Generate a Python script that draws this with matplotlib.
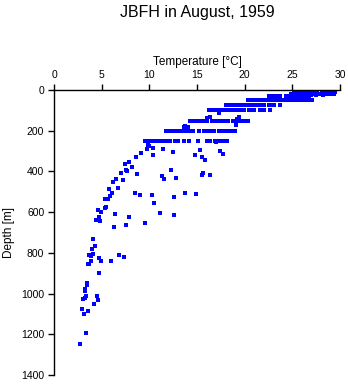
import matplotlib
matplotlib.use("Agg")
import matplotlib.pyplot as plt

plt.rcParams['font.family'] = ['Liberation Sans', 'DejaVu Sans']

# == Data ==
# Surface layers (depth in m, temperatures in degC)
t_0m = [25.3, 25.6, 26.0, 26.1, 26.2, 26.3, 26.4, 26.5, 26.6, 26.7, 26.8,
        26.9, 27.0, 27.1, 27.2, 27.4, 27.6, 28.2, 28.3, 28.4, 28.5, 28.6,
        28.7, 28.8, 28.9, 29.0, 29.2, 29.4]
t_10m = [25.2, 25.8, 26.1, 26.2, 26.3, 26.4, 26.5, 26.6, 26.7, 26.8, 26.9,
         27.0, 27.1, 27.3, 27.5, 28.1, 28.3, 28.5, 28.7, 28.9, 29.1, 29.3,
         29.5]
t_20m = [24.9, 25.4, 26.0, 26.2, 26.4, 26.6, 26.8, 27.0, 27.3, 27.6, 27.8,
         28.0, 28.4, 28.8, 29.1, 29.4]
t_25m = [25.0, 25.3, 26.0, 26.5, 27.0, 27.5, 28.2]
t_30m = [22.5, 22.7, 22.9, 23.1, 23.5, 23.7, 24.3, 24.5, 24.7, 24.9, 25.2,
         25.5, 25.9, 26.3, 26.7]
t_50m = [20.3, 20.5, 20.7, 20.9, 21.1, 21.3, 21.5, 21.7, 21.9, 22.1, 22.3,
         22.5, 22.7, 22.9, 23.1, 23.3, 23.5, 23.7, 23.9, 24.1, 24.3, 24.5,
         24.7, 24.9, 25.1, 25.3, 25.5, 25.7, 25.9, 26.1, 26.3, 26.5, 26.7,
         26.9, 27.1]
t_75m = [18.0, 18.2, 18.4, 18.6, 18.8, 19.0, 19.2, 19.4, 19.6, 19.8, 20.0,
         20.2, 20.4, 20.6, 20.8, 21.0, 21.2, 21.4, 21.6, 21.8, 22.0, 22.5,
         22.8, 23.1, 23.7]
t_100m = [16.3, 16.5, 16.7, 16.9, 17.1, 17.3, 17.5, 17.7, 17.9, 18.1, 18.3,
          18.5, 18.7, 18.9, 19.1, 19.3, 19.5, 19.7, 19.9, 20.5, 20.8, 21.0,
          21.6, 22.0, 22.7]
t_150m = [14.3, 14.5, 14.7, 14.9, 15.1, 15.3, 15.5, 15.7, 15.9, 16.1, 16.6,
          17.0, 17.4, 17.6, 17.8, 18.0, 18.3, 18.8, 19.0, 19.2, 19.4, 19.6,
          19.8, 20.0, 20.4]
t_200m = [11.7, 11.9, 12.1, 12.3, 12.5, 12.7, 12.9, 13.1, 13.3, 13.5, 13.7,
          13.9, 14.1, 14.3, 14.6, 15.2, 15.7, 16.1, 16.4, 16.8, 17.3, 17.5,
          17.7, 17.9, 18.2, 18.4, 18.7, 19.0]
t_250m = [9.5, 9.7, 9.9, 10.1, 10.3, 10.5, 10.7, 10.9, 11.1, 11.3, 11.5,
          11.7, 11.9, 12.2, 12.7, 13.0, 13.6, 14.2, 15.1, 16.0, 16.4, 16.9,
          17.1, 17.4, 17.7, 18.1]

# Scattered single readings (depth m, temperature degC)
depth_pts = [98, 114, 131, 131, 139, 143, 150, 170, 176, 180, 180, 186,
             255, 270, 274, 284, 292, 290, 306, 311, 319, 320, 328, 354,
             362, 380, 391, 398, 407, 412, 440, 435, 450, 479, 486, 505,
             522, 535, 535, 574, 580, 590, 600, 623, 639, 644,
             294, 319, 328, 343, 300, 313, 420, 437, 391, 430, 407, 417, 417,
             505, 515, 515, 526, 505, 510, 556, 606, 614, 652, 665, 673,
             609, 622,
             730, 765, 781, 809, 814, 806, 825, 838, 853, 853, 840, 840,
             810, 820, 899, 948, 956, 977, 988, 1010, 1026, 1024, 1011,
             1031, 1050, 1075, 1085, 1100, 1193, 1247]
temp_pts = [21.7, 17.3, 16.4, 19.4, 16.0, 19.2, 19.6, 19.1, 13.7, 13.6, 14.1, 14.1,
            17.0, 9.9, 9.95, 10.4, 9.75, 11.4, 12.5, 9.1, 10.4, 10.4, 8.6, 7.9,
            7.4, 8.2, 7.55, 7.7, 7.0, 8.75, 7.2, 6.5, 6.2, 6.7, 5.8, 6.1,
            5.9, 5.3, 5.65, 5.5, 5.35, 4.6, 4.9, 4.75, 4.4, 4.8,
            15.3, 14.8, 15.5, 15.8, 17.4, 17.7, 11.3, 11.5, 12.3, 12.8, 15.6, 15.5, 16.4,
            8.5, 9.0, 10.3, 12.6, 13.7, 14.9, 10.5, 11.1, 12.6, 9.5, 7.55, 6.3,
            6.4, 7.9,
            4.04, 4.29, 4.0, 3.69, 3.93, 4.1, 4.74, 3.83, 3.58, 3.64, 4.96, 6.0,
            6.78, 7.3, 4.74, 3.48, 3.45, 3.27, 3.27, 3.34, 3.06, 3.27, 4.53,
            4.64, 4.22, 2.95, 3.58, 3.13, 3.37, 2.7]

levels = [(0, t_0m), (10, t_10m), (20, t_20m), (25, t_25m), (30, t_30m),
          (50, t_50m), (75, t_75m), (100, t_100m), (150, t_150m),
          (200, t_200m), (250, t_250m)]

# == Figure ==
fig = plt.figure(figsize=(3.48, 3.84), dpi=100)
ax = fig.add_axes([54 / 348, 9 / 384, 286 / 348, 285 / 384])

for d, temps in levels:
    ax.plot(temps, [d] * len(temps), linestyle="none", marker="s",
            markersize=2.25, markeredgewidth=0, color="#0000ff")
ax.plot(temp_pts, depth_pts, linestyle="none", marker="s",
        markersize=2.4, markeredgewidth=0, color="#0000ff")

ax.set_xlim(0, 30)
ax.set_ylim(1400, 0)
ax.set_xticks(range(0, 31, 5))
ax.set_yticks(range(0, 1401, 200))

ax.xaxis.tick_top()
ax.xaxis.set_label_position("top")
ax.spines["right"].set_visible(False)
ax.spines["bottom"].set_visible(False)
for s in ("top", "left"):
    ax.spines[s].set_linewidth(1.0)
ax.tick_params(direction="out", length=4, width=1.0, labelsize=7.5, pad=3)

ax.set_xlabel("Temperature [°C]", fontsize=8.5, labelpad=4)
ax.set_ylabel("Depth [m]", fontsize=8.5, labelpad=4)

fig.text(197 / 348, 1 - 12 / 384, "JBFH in August, 1959", ha="center",
         va="center", fontsize=11.5)

fig.savefig("out.png", dpi=100)
